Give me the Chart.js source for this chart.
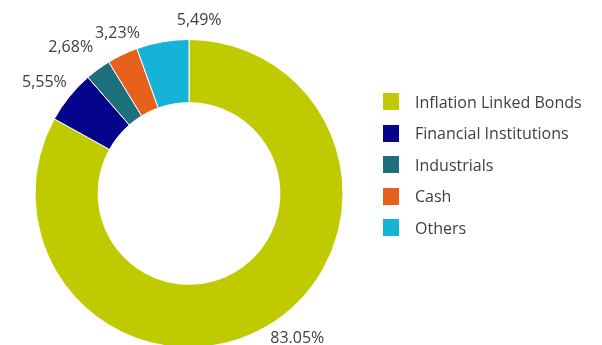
<!DOCTYPE html>
<html>
<head>
<meta charset="utf-8">
<script src="https://cdn.jsdelivr.net/npm/chart.js@4/dist/chart.umd.min.js"></script>
<style>
  html, body { margin: 0; padding: 0; background: #fff; overflow: hidden; }
  #wrap { position: relative; width: 602px; height: 348px; }
  #legend { position: absolute; left: 383px; top: 85.75px; font-family: "Open Sans", sans-serif; font-size: 16px; color: #404040; }
  #legend .row { height: 31.5px; display: flex; align-items: center; white-space: nowrap; }
  #legend .sw { width: 16px; height: 17px; margin-right: 16px; flex: none; }
</style>
</head>
<body>
<div id="wrap">
  <canvas id="pie"></canvas>
  <div id="legend"></div>
</div>
<script>
// sectors, clockwise from 12 o'clock
var categories = ["Inflation Linked Bonds", "Financial Institutions", "Industrials", "Cash", "Others"]
var shares = [83.05, 5.55, 2.68, 3.23, 5.49]
var shareLabels = ["83.05%", "5,55%", "2,68%", "3,23%", "5,49%"]
var colours = ["#bfcb00", "#05058c", "#1c6f7b", "#e6611c", "#15b3d5"]

// outside labels, placed from each arc's middle angle
var sliceLabels = {
  id: 'sliceLabels',
  afterDatasetsDraw(chart, args, opts) {
    var ctx = chart.ctx
    var meta = chart.getDatasetMeta(0)
    ctx.save()
    ctx.font = opts.font
    ctx.fillStyle = opts.color
    ctx.textAlign = 'center'
    ctx.textBaseline = 'middle'
    meta.data.forEach((arc, i) => {
      var p = arc.getProps(['x', 'y', 'startAngle', 'endAngle', 'outerRadius'], true)
      var mid = (p.startAngle + p.endAngle) / 2
      var r = p.outerRadius + opts.distance
      var n = opts.nudge[i] || [0, 0]
      ctx.fillText(shareLabels[i], p.x + Math.cos(mid) * r + n[0], p.y + Math.sin(mid) * r + n[1])
    })
    ctx.restore()
  }
}

var htmlLegend = {
  id: 'htmlLegend',
  afterUpdate(chart) {
    var box = document.getElementById("legend")
    box.innerHTML = ""
    var ds = chart.data.datasets[0]
    chart.data.labels.forEach((lbl, i) => {
      var row = document.createElement("div")
      row.className = "row"
      var sw = document.createElement("span")
      sw.className = "sw"
      sw.style.background = ds.backgroundColor[i]
      var txt = document.createElement("span")
      txt.textContent = lbl
      row.appendChild(sw)
      row.appendChild(txt)
      box.appendChild(row)
    })
  }
}

new Chart("pie", {
  type: "doughnut",
  data: {
    labels: categories,
    datasets: [{
      data: shares,
      backgroundColor: colours,
      borderColor: "#ffffff",
      borderWidth: 1
    }]
  },
  options: {
    responsive: true,
    maintainAspectRatio: false,
    animation: false,
    cutout: "59%",
    layout: { padding: { left: 34, right: 258, top: 39, bottom: 0 } },
    plugins: {
      legend: { display: false },
      tooltip: { enabled: false },
      sliceLabels: {
        font: '16px "Open Sans", sans-serif',
        color: '#404040',
        distance: 14,
        nudge: [[23, 0], [-14, -5], [-19, -11], [1, -9], [39, -8]]
      }
    }
  },
  plugins: [sliceLabels, htmlLegend]
})
</script>
</body>
</html>
